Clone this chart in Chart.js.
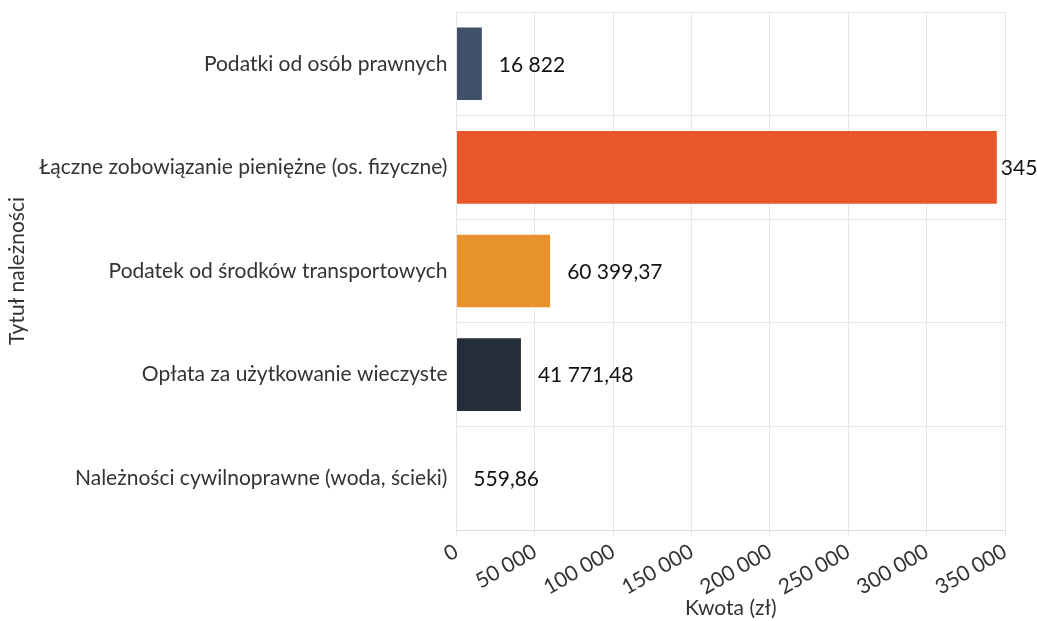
<!DOCTYPE html>
<html>
<head>
<meta charset="utf-8">
<script src="https://cdn.jsdelivr.net/npm/chart.js@4"></script>
<style>
  html, body { margin: 0; padding: 0; background: #fff; }
  #wrap { width: 1037px; height: 621px; }
</style>
</head>
<body>
<div id="wrap"><canvas id="myChart" width="1037" height="621"></canvas></div>
<script>
/** Daten */
var kategorien = [
  'Podatki od osób prawnych',
  'Łączne zobowiązanie pieniężne (os. fizyczne)',
  'Podatek od środków transportowych',
  'Opłata za użytkowanie wieczyste',
  'Należności cywilnoprawne (woda, ścieki)'
];
var kwoty = [16822, 345400, 60399.37, 41771.48, 559.86];
var kolory = ['#3f5068', '#e8572a', '#e8922e', '#232e3a', '#f0a58c'];
var xTicks = [0, 50000, 100000, 150000, 200000, 250000, 300000, 350000];

/** Formatierung: 16 822 / 60 399,37 */
function fmt(v) {
  var neg = v < 0;
  v = Math.abs(v);
  var ganz = Math.floor(v);
  var rest = Math.round((v - ganz) * 100);
  var s = String(ganz).replace(/\B(?=(\d{3})+(?!\d))/g, ' ');
  if (rest > 0) s += ',' + (rest < 10 ? '0' + rest : rest);
  return (neg ? '-' : '') + s;
}

/** Werte neben den Balken */
var wertLabels = {
  id: 'wertLabels',
  afterDatasetsDraw: function(chart) {
    var ctx = chart.ctx;
    var meta = chart.getDatasetMeta(0);
    ctx.save();
    ctx.font = '21px Lato';
    ctx.fillStyle = '#111';
    ctx.textBaseline = 'middle';
    ctx.textAlign = 'left';
    meta.data.forEach(function(bar, i) {
      var txt = fmt(kwoty[i]);
      var x = bar.x + 16;
      if (x + ctx.measureText(txt).width > chart.width) x = bar.x + 3;
      ctx.fillText(txt, x, bar.y + 1);
    });
    ctx.restore();
  }
};

Chart.defaults.font.family = "Lato, 'Open Sans', sans-serif";
var ctx = document.getElementById('myChart').getContext('2d');
var myChart = new Chart(ctx, {
  type: 'bar',
  data: {
    labels: kategorien,
    datasets: [{
      data: kwoty,
      backgroundColor: kolory,
      borderColor: 'rgba(255,255,255,0.35)',
      borderWidth: 1,
      barPercentage: 0.8,
      categoryPercentage: 0.9
    }]
  },
  options: {
    indexAxis: 'y',
    responsive: false,
    animation: false,
    layout: { padding: { top: 12, right: 32, left: 5, bottom: 0 } },
    plugins: {
      legend: { display: false },
      tooltip: { enabled: false }
    },
    scales: {
      x: {
        min: 0,
        max: 350000,
        afterBuildTicks: function(axis) {
          axis.ticks = xTicks.map(function(v) { return { value: v }; });
        },
        afterFit: function(s) {
          s.height = 91;
        },
        ticks: {
          minRotation: 30,
          maxRotation: 30,
          color: '#333',
          font: { size: 21 },
          padding: 3,
          callback: function(v) { return fmt(v); }
        },
        grid: { color: '#e6e6e6', tickLength: 6 },
        border: { color: '#dcdcdc' },
        title: {
          display: true,
          text: 'Kwota (zł)',
          color: '#333',
          font: { size: 21 },
          padding: { top: 0, bottom: 0 }
        }
      },
      y: {
        afterFit: function(s) {
          s.paddingTop = 0;
          s.paddingBottom = 0;
        },
        ticks: {
          color: '#333',
          font: { size: 21 },
          padding: 9
        },
        grid: { color: '#e6e6e6', tickLength: 0 },
        border: { color: '#e6e6e6' },
        title: {
          display: true,
          text: 'Tytuł należności',
          color: '#333',
          font: { size: 21 },
          padding: { top: 0, bottom: 0 }
        }
      }
    }
  },
  plugins: [wertLabels]
});
</script>
</body>
</html>
